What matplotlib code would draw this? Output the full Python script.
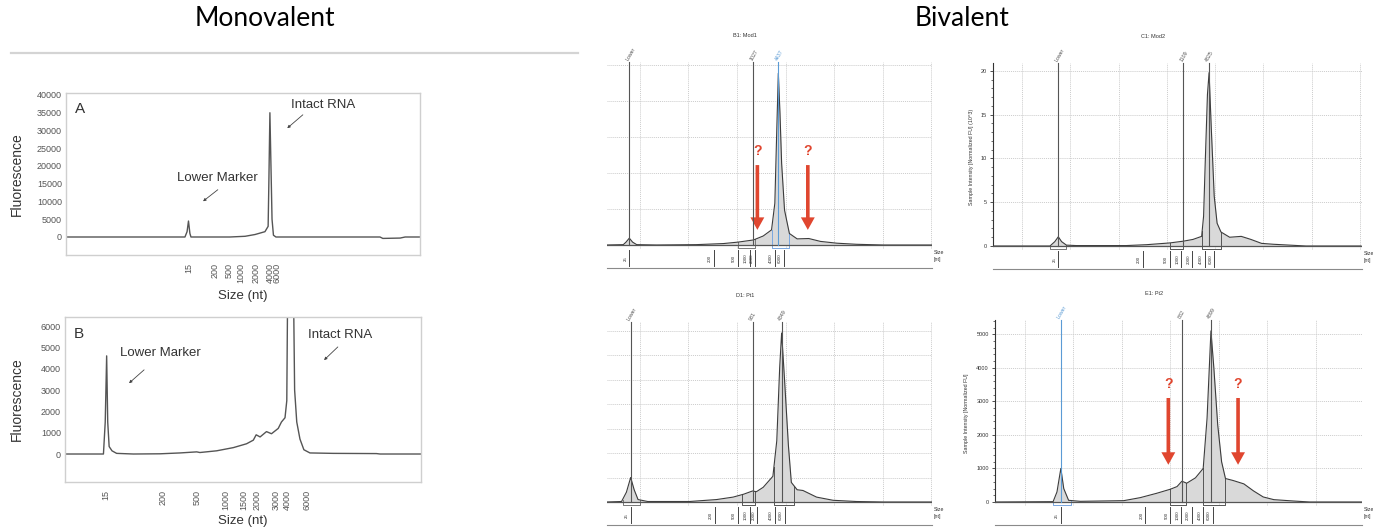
import numpy as np
import matplotlib
matplotlib.use("Agg")
import matplotlib.pyplot as plt
from matplotlib.lines import Line2D
from matplotlib.ticker import AutoMinorLocator

# ---- monovalent traces (x in arbitrary run units 0-100)
a_x = [0, 33.6, 34.2, 34.6, 35.0, 35.3, 46.3, 50.6, 53.4, 56.2, 57.1, 57.3, 57.6, 57.9, 58.2, 58.6, 59.3,
       88.7, 89.5, 94.4, 95.8, 100]
a_y = [0, 0, 1500, 4500, 1000, 0, 0, 200, 700, 1500, 3000, 15000, 35000, 20000, 5000, 500, 0,
       0, -400, -300, 0, 0]
a_tick_pos = [34.7, 42.1, 46.0, 49.4, 53.7, 57.6, 59.6]
a_tick_lab = ['15', '200', '500', '1000', '2000', '4000', '6000']

b_x = [0, 10.8, 11.3, 11.7, 12.0, 12.4, 13.2, 14.5, 19.2, 26.7, 32.3, 37.0, 37.9, 42.6, 47.3, 51.0, 52.9,
       53.7, 54.8, 56.6, 58.0, 59.9, 60.8, 61.8, 62.3, 62.6, 64.1, 64.5, 65.1, 66.0, 67.1, 68.8, 75.3,
       87.5, 88.5, 100]
b_y = [0, 0, 1500, 4600, 1500, 350, 150, 30, 0, 10, 50, 100, 70, 150, 300, 480, 650,
       900, 800, 1050, 950, 1200, 1500, 1700, 2500, 9000, 9000, 3000, 1500, 700, 200, 50, 30,
       20, 0, 0]
b_tick_pos = [11.5, 27.5, 37.1, 45.2, 50.3, 53.9, 59.3, 62.4, 68.0]
b_tick_lab = ['15', '200', '500', '1000', '1500', '2000', '3000', '4000', '6000']

# ---- bivalent electropherograms (x in seconds)
p1_x = [16.56, 18.28, 18.56, 18.9, 19.24, 19.66, 21.7, 25.8, 28.6, 30.1, 31.7, 32.7, 33.56, 33.9, 34.1,
        34.26, 34.43, 34.6, 34.9, 35.4, 36.2, 37.4, 38.6, 40.3, 42.3, 45.1, 50.1]
p1_y = [0, 0.01, 0.08, 0.19, 0.08, 0.01, 0, 0.01, 0.04, 0.08, 0.14, 0.25, 0.42, 1.16, 3.2,
        4.77, 3.66, 2.27, 0.97, 0.32, 0.17, 0.18, 0.1, 0.05, 0.02, 0, 0]
p1_markers = [('Lower', 18.9, '#555555'), ('1027', 31.7, '#555555'), ('4437', 34.26, '#5b9bd5')]
p1_regions = [(30.1, 31.9, '#777777'), (33.56, 35.4, '#7aa7e0')]
p1_ladder = [18.9, 27.6, 30.1, 31.3, 31.9, 33.9, 34.8]

p2_x = [17.0, 22.9, 23.4, 23.76, 24.1, 24.6, 25.6, 30.8, 32.9, 35.3, 36.7, 37.7, 38.6, 38.8, 38.97,
        39.2, 39.37, 39.6, 39.9, 40.2, 40.6, 41.5, 42.7, 43.7, 44.8, 46.0, 47.7, 49.4, 55.1]
p2_y = [0, 0, 0.5, 1.05, 0.5, 0.1, 0.05, 0.05, 0.15, 0.35, 0.55, 0.75, 1.1, 3.4, 9.5,
        17.3, 19.8, 13.4, 5.7, 2.6, 1.6, 1.0, 1.1, 0.75, 0.3, 0.2, 0.1, 0, 0]
p2_markers = [('Lower', 23.76, '#555555'), ('1109', 36.7, '#555555'), ('4825', 39.37, '#555555')]
p2_regions = [(22.9, 24.6, '#777777'), (35.3, 36.7, '#555555'), (38.65, 40.6, '#555555')]
p2_ladder = [23.76, 32.5, 35.3, 36.5, 37.6, 38.9, 39.9]

p3_x = [16.56, 18.1, 18.6, 19.04, 19.4, 19.8, 20.8, 25.1, 27.9, 29.6, 30.7, 31.6, 32.0, 32.7, 33.7,
        34.1, 34.4, 34.6, 34.9, 35.3, 35.6, 36.2, 36.8, 38.2, 39.9, 42.3, 45.1, 50.1]
p3_y = [0, 0.02, 0.4, 1.0, 0.5, 0.1, 0.02, 0.02, 0.1, 0.2, 0.32, 0.45, 0.42, 0.6, 1.05,
        2.5, 5.5, 6.9, 5, 2.3, 0.8, 0.5, 0.47, 0.2, 0.07, 0.02, 0, 0]
p3_markers = [('Lower', 19.04, '#555555'), ('931', 31.6, '#555555'), ('4349', 34.6, '#555555')]
p3_regions = [(18.2, 20.0, '#777777'), (30.5, 31.9, '#555555'), (33.8, 35.9, '#555555')]
p3_ladder = [19.04, 27.7, 30.1, 31.3, 32.1, 33.9, 34.9]

p4_x = [16.9, 22.9, 23.3, 23.7, 24.0, 24.5, 25.7, 30.2, 31.9, 33.6, 35.0, 35.7, 36.2, 36.7, 37.6,
        38.4, 38.8, 39.2, 39.5, 39.9, 40.3, 40.7, 41.5, 42.6, 43.6, 44.6, 45.7, 47.7, 49.4, 54.8]
p4_y = [0, 10, 300, 1000, 400, 50, 20, 40, 130, 260, 380, 460, 620, 560, 720,
        1000, 2500, 5100, 4000, 2300, 1200, 700, 640, 540, 330, 150, 70, 30, 0, 0]
p4_markers = [('Lower', 23.7, '#5b9bd5'), ('882', 36.2, '#555555'), ('4899', 39.2, '#555555')]
p4_regions = [(22.9, 24.7, '#7aa7e0'), (35.0, 36.6, '#555555'), (38.4, 40.7, '#555555')]
p4_ladder = [23.7, 32.4, 35.0, 36.1, 37.2, 38.4, 39.4]

ladder_lab = ['25', '200', '500', '1000', '2000', '4000', '6000']
RED = '#e0462f'

W, H = 1373, 531
fig = plt.figure(figsize=(W / 100, H / 100), dpi=100)
plt.rcParams['font.family'] = ['Liberation Sans', 'DejaVu Sans']


def box(l, t, r, b):
    return fig.add_axes([l / W, 1 - b / H, (r - l) / W, (b - t) / H])


fig.text(265 / W, 1 - 19 / H, 'Monovalent', family='Lato', fontsize=19, ha='center', va='center')
fig.text(962 / W, 1 - 19 / H, 'Bivalent', family='Lato', fontsize=19, ha='center', va='center')
fig.add_artist(Line2D([11 / W, 578 / W], [1 - 53 / H, 1 - 53 / H], color='#d4d4d4', lw=1.6))


def mono_panel(l, t, r, b, x, y, ylim, yticks, tpos, tlab, letter, notes):
    ax = box(l, t, r, b)
    ax.plot(x, y, color='#555555', lw=1.0)
    ax.set_xlim(0, 100)
    ax.set_ylim(*ylim)
    ax.set_yticks(yticks)
    ax.set_xticks(tpos)
    ax.set_xticklabels(tlab, rotation=90)
    ax.tick_params(length=0, labelsize=6.5, labelcolor='#555555', pad=3)
    ax.tick_params(axis='x', pad=6)
    for s in ax.spines.values():
        s.set_color('#cfcfcf')
        s.set_linewidth(1.0)
    ax.set_ylabel('Fluorescence', fontsize=10, color='#333333')
    ax.yaxis.set_label_coords((24 - l) / (r - l), 0.5)
    ax.set_xlabel('Size (nt)', fontsize=9.5, color='#333333', labelpad=5)
    ax.text(0.025, 0.9, letter, transform=ax.transAxes, fontsize=11, color='#333333', va='center')
    for txt, tx, ty, ax0, ay0, ax1, ay1 in notes:
        ax.text(tx, ty, txt, fontsize=9.5, color='#333333', ha='center', va='center')
        ax.annotate('', xy=(ax1, ay1), xytext=(ax0, ay0),
                    arrowprops=dict(arrowstyle='-|>', color='#444444', lw=0.6, mutation_scale=4))
    return ax


mono_panel(66, 93, 420, 255, a_x, a_y, (-5070, 40560), range(0, 40001, 5000), a_tick_pos, a_tick_lab, 'A',
           [('Lower Marker', 42.9, 16620, 43.5, 13800, 38.1, 9580),
            ('Intact RNA', 72.6, 37180, 67.5, 34930, 61.9, 30140)])
ax_b = mono_panel(65, 317, 421, 482, b_x, b_y, (-1312, 6422), range(0, 6001, 1000), b_tick_pos, b_tick_lab, 'B',
                  [('Lower Marker', 26.7, 4734, 22.8, 4031, 17.4, 3234),
                   ('Intact RNA', 77.2, 5578, 77.2, 5109, 72.2, 4312)])
ax_b.xaxis.labelpad = 3


def bio_panel(l, r, t, base, x, y, ytop, xlim, ygrid, markers, regions, ladder, title, ylab=None,
              arrows=None):
    ppu = (base - t) / ytop
    ax = box(l, t, r, base + 4)
    ax.set_xlim(*xlim)
    ax.set_ylim(-4 / ppu, ytop)
    for s in ax.spines.values():
        s.set_visible(False)
    ax.set_xticks([])
    for g in ygrid[1:]:
        ax.axhline(g, color='#cccccc', lw=0.7, ls=(0, (1, 1)), zorder=0)
    for g in range(20, int(xlim[1]) + 1, 5):
        ax.axvline(g, color='#cccccc', lw=0.7, ls=(0, (1, 1)), zorder=0)
    ax.fill_between(x, y, 0, color='#d9d9d9', lw=0, zorder=1)
    ax.plot(x, y, color='#3c3c3c', lw=0.8, zorder=3)
    ax.axhline(0, color='#555555', lw=0.9, zorder=3)
    low = -3 / ppu
    for a, b, col in regions:
        ax.plot([a, a, b, b], [np.interp(a, x, y), low, low, np.interp(b, x, y)], color=col, lw=0.7, zorder=2)
    for lab, xm, col in markers:
        ax.plot([xm, xm], [0, ytop], color=col, lw=0.8, zorder=4, clip_on=False)
        ax.annotate(lab, (xm, ytop), xytext=(-1.5, 1.5), textcoords='offset points', rotation=60,
                    rotation_mode='anchor', fontsize=3.8, color=col, ha='left', va='center',
                    annotation_clip=False)
    if ylab is None:
        ax.set_yticks([])
    else:
        ax.spines['left'].set_visible(True)
        ax.spines['left'].set_color('#333333')
        ax.spines['left'].set_bounds(0, ytop)
        ax.set_yticks(ygrid)
        ax.yaxis.set_minor_locator(AutoMinorLocator(5))
        ax.tick_params(axis='y', which='major', length=2.5, width=0.6, labelsize=4, pad=2, colors='#333333')
        ax.tick_params(axis='y', which='minor', length=1.5, width=0.5, colors='#333333')
        ax.set_ylabel(ylab, fontsize=3.8, color='#333333', labelpad=5)
    for ax_x, y0, y1 in (arrows or []):
        ax.annotate('', xy=(ax_x, y1), xytext=(ax_x, y0),
                    arrowprops=dict(facecolor=RED, edgecolor='none', width=2.6, headwidth=10, headlength=9,
                                    shrink=0))
        ax.text(ax_x, y0 + 14 / ppu, '?', color=RED, fontsize=10, fontweight='bold', ha='center', va='center')
    fig.text((l + r) / 2 / W - 0.018, 1 - (t - 25) / H, title, fontsize=4, color='#333333', ha='center')

    lad = box(l, base + 4, r, base + 23)
    lad.set_xlim(*xlim)
    lad.set_ylim(0, 1)
    lad.axis('off')
    lad.plot([xlim[0], xlim[1]], [0, 0], color='#8a8a8a', lw=0.8, clip_on=False)
    for p, lb in zip(ladder, ladder_lab):
        lad.plot([p, p], [0.1, 0.95], color='#444444', lw=0.7)
        lad.annotate(lb, (p, 0.5), xytext=(-1.2, 0), textcoords='offset points', rotation=90,
                     fontsize=3.2, color='#333333', ha='right', va='center')
    lad.text(1.005, 0.95, 'Size\n[nt]', transform=lad.transAxes, fontsize=3.8, color='#333333',
             ha='left', va='top', linespacing=1.6)
    return ax


bio_panel(607, 932, 62, 245, p1_x, p1_y, 5.083, (16.6, 50.1), range(0, 6), p1_markers, p1_regions,
          p1_ladder, 'B1: Mod1', arrows=[(32.1, 2.22, 0.42), (37.3, 2.22, 0.42)])
bio_panel(993, 1362, 63, 246, p2_x, p2_y, 20.9, (17.0, 55.2), range(0, 21, 5), p2_markers, p2_regions,
          p2_ladder, 'C1: Mod2', ylab='Sample Intensity [Normalized FU] (10^3)')
bio_panel(607, 932, 322, 502, p3_x, p3_y, 7.35, (16.6, 50.1), range(0, 8), p3_markers, p3_regions,
          p3_ladder, 'D1: Pt1')
bio_panel(995, 1362, 320, 502, p4_x, p4_y, 5425, (16.9, 54.8), range(0, 5001, 1000), p4_markers,
          p4_regions, p4_ladder, 'E1: Pt2', ylab='Sample Intensity [Normalized FU]',
          arrows=[(34.8, 3100, 1110), (42.0, 3100, 1110)])

fig.savefig('out.png', dpi=100)
